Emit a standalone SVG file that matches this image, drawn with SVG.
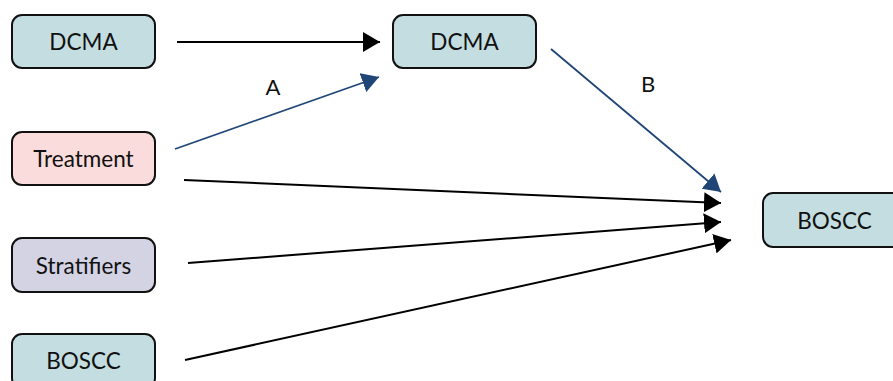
<svg xmlns="http://www.w3.org/2000/svg" width="893" height="381" viewBox="0 0 893 381">
<style>
.n rect{stroke:#111;stroke-width:2}
.n text{font-family:Lato,"Open Sans","Liberation Sans",sans-serif;font-size:22.5px;fill:#111;text-anchor:middle;dominant-baseline:central}
.teal{fill:#c3dde0}
.pink{fill:#f9dcdb}
.lav{fill:#d3d3e3}
.k{stroke:#000;stroke-width:2;fill:none}
.b{stroke:#1f4677;stroke-width:1.8;fill:none}
.lbl{font-family:Lato,"Open Sans","Liberation Sans",sans-serif;font-size:22px;fill:#111;text-anchor:middle;dominant-baseline:central}
</style>
<defs>
<marker id="ak" markerUnits="userSpaceOnUse" markerWidth="18" markerHeight="20" refX="17" refY="10" orient="auto"><path d="M0,0 L17,10 L0,20 Z" fill="#000"/></marker>
<marker id="ab" markerUnits="userSpaceOnUse" markerWidth="18" markerHeight="20" refX="17" refY="10" orient="auto"><path d="M0,0 L17,10 L0,20 Z" fill="#1f4677"/></marker>
</defs>
<g id="connectors">
<line class="k" x1="177" y1="42" x2="380" y2="42" marker-end="url(#ak)"/>
<line class="b" x1="175" y1="149" x2="379" y2="77" marker-end="url(#ab)"/>
<line class="b" x1="551" y1="49" x2="721" y2="192" marker-end="url(#ab)"/>
<line class="k" x1="184" y1="180" x2="721" y2="203" marker-end="url(#ak)"/>
<line class="k" x1="188" y1="263" x2="721" y2="222" marker-end="url(#ak)"/>
<line class="k" x1="185" y1="360" x2="731" y2="240" marker-end="url(#ak)"/>
<text class="lbl" x="273" y="86">A</text>
<text class="lbl" x="648" y="83">B</text>
</g>
<g id="dcma1" class="n"><rect class="teal" x="12" y="15" width="143" height="53" rx="10"/><text x="83.5" y="41.5">DCMA</text></g>
<g id="dcma2" class="n"><rect class="teal" x="393" y="15" width="143" height="53" rx="10"/><text x="464.5" y="41.5">DCMA</text></g>
<g id="treatment" class="n"><rect class="pink" x="12" y="132" width="143" height="53" rx="10"/><text x="83.5" y="158.5">Treatment</text></g>
<g id="stratifiers" class="n"><rect class="lav" x="12" y="238" width="143" height="54" rx="10"/><text x="83.5" y="265">Stratifiers</text></g>
<g id="boscc1" class="n"><rect class="teal" x="12" y="334" width="143" height="54" rx="10"/><text x="83.5" y="360">BOSCC</text></g>
<g id="boscc2" class="n"><rect class="teal" x="763" y="193" width="143" height="54" rx="10"/><text x="834.5" y="220">BOSCC</text></g>
</svg>
